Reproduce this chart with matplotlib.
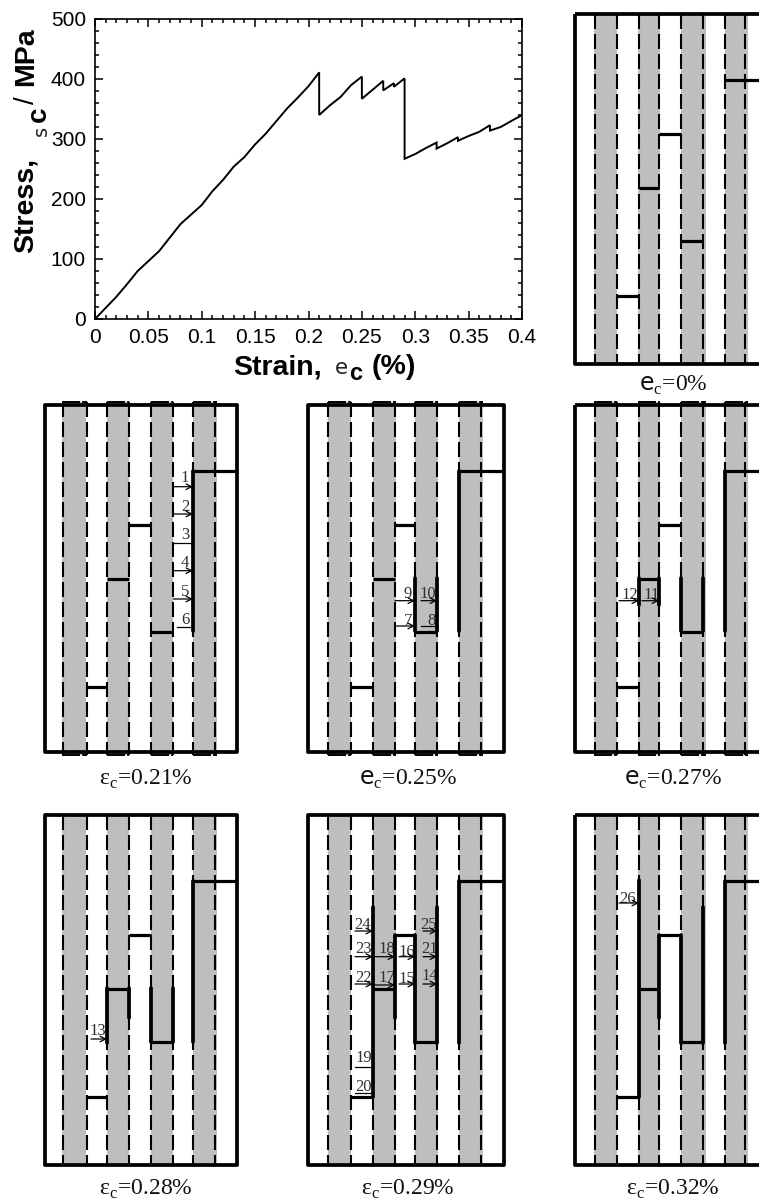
import matplotlib
matplotlib.use('Agg')
import matplotlib.pyplot as plt
from matplotlib.patches import Rectangle

plt.rcParams['mathtext.fontset'] = 'custom'
plt.rcParams['mathtext.rm'] = 'Liberation Serif'
plt.rcParams['mathtext.sf'] = 'DejaVu Sans'
plt.rcParams['mathtext.bf'] = 'Liberation Sans:bold'
plt.rcParams['lines.scale_dashes'] = False

W, H = 759, 1200
DPI = 100

# ---- stress-strain curve ----
strain = [0, 0.02, 0.03, 0.04, 0.06, 0.08, 0.10, 0.11, 0.12, 0.13, 0.14, 0.15, 0.16, 0.17, 0.18, 0.19,
          0.20, 0.21, 0.21, 0.22, 0.23, 0.24, 0.25, 0.25, 0.26, 0.27, 0.27, 0.28, 0.28, 0.29, 0.29,
          0.30, 0.31, 0.32, 0.32, 0.33, 0.34, 0.34, 0.35, 0.36, 0.37, 0.37, 0.38, 0.39, 0.40]
stress = [0, 37, 58, 80, 113, 158, 190, 213, 232, 254, 270, 291, 309, 330, 351, 369,
          388, 411, 340, 356, 370, 390, 404, 367, 382, 397, 381, 393, 387, 401, 267,
          275, 285, 294, 284, 293, 303, 297, 305, 312, 323, 314, 320, 330, 340]
x_ticks = [0, 0.05, 0.1, 0.15, 0.2, 0.25, 0.3, 0.35, 0.4]
x_tick_labels = ['0', '0.05', '0.1', '0.15', '0.2', '0.25', '0.3', '0.35', '0.4']
y_ticks = [0, 100, 200, 300, 400, 500]

# ---- laminate panels ----
iface_col = {
    1: [62.7, 87.0, 107.3, 129.0, 151.3, 173.3, 193.3, 215.0],
    2: [328.3, 350.7, 373.3, 395.0, 415.3, 437.3, 458.7, 481.0],
    3: [595.0, 617.3, 639.0, 659.0, 681.0, 703.3, 725.0, 745.3],
}
band_col = {
    1: [(62.5, 86.5), (106.8, 129.5), (150.7, 173.0), (192.8, 217.3)],
    2: [(328, 351), (373, 395.5), (415, 438), (458.5, 483)],
    3: [(594.5, 617.5), (638.5, 660), (680.5, 705.7), (724.5, 747.7)],
}
box_col = {1: (45, 237), 2: (308, 504), 3: (575, 767)}
row_span = {0: (14, 364), 1: (405, 752), 2: (815, 1165)}

# transverse cracks: depth below the panel top
crack_a, crack_b, crack_c, crack_d, crack_e = 282, 174, 120, 227, 66

panels = [
    dict(name='0', col=3, row=0, cap=r'$\mathsf{e}_{\mathrm{c}}$=0%', thick=[], arrows=[]),
    dict(name='21', col=1, row=1, cap=r'ε$_{\mathrm{c}}$=0.21%',
         thick=[(6, 66, 226)],
         arrows=[('1', 173.5, 193, 81.7, 185, 73, True), ('2', 173.5, 193, 109, 185, 101.7, True),
                 ('3', 173.5, 193, 137.7, 185, 130, False), ('4', 173.5, 193, 165.7, 185, 158, True),
                 ('5', 173.5, 193, 194, 185, 187, True), ('6', 177, 193, 221.7, 185, 215, False)]),
    dict(name='25', col=2, row=1, cap=r'$\mathsf{e}_{\mathrm{c}}$=0.25%',
         thick=[(6, 66, 226), (4, 173, 226), (5, 173, 226)],
         arrows=[('9', 395, 415, 195.7, 408, 189, True), ('10', 421, 437, 195.7, 428, 189, True),
                 ('7', 395, 415, 221, 408, 216, True), ('8', 421, 437, 221, 432, 216, False)]),
    dict(name='27', col=3, row=1, cap=r'$\mathsf{e}_{\mathrm{c}}$=0.27%',
         thick=[(6, 66, 226), (4, 173, 226), (5, 173, 226), (2, 173, 200), (3, 173, 200)],
         arrows=[('12', 619, 639, 195.7, 630, 190, True), ('11', 642, 659, 195.7, 652, 190, True)]),
    dict(name='28', col=1, row=2, cap=r'ε$_{\mathrm{c}}$=0.28%',
         thick=[(6, 66, 227), (4, 173, 227), (5, 173, 227), (2, 173, 228), (3, 173, 203)],
         arrows=[('13', 91, 107, 224, 98, 216, True)]),
    dict(name='29', col=2, row=2, cap=r'ε$_{\mathrm{c}}$=0.29%',
         thick=[(6, 66, 228), (5, 92, 228), (4, 120, 228), (3, 120, 203), (2, 92, 282)],
         arrows=[('24', 355, 373, 116, 363, 110, True), ('23', 355, 373, 141.7, 363, 134, True),
                 ('22', 355, 373, 169, 363, 162.7, True), ('19', 355, 372, 251.7, 364, 243, False),
                 ('20', 355, 372, 278, 364, 271.7, False), ('18', 373, 395, 141.7, 387, 134, True),
                 ('17', 373, 395, 170, 387, 162.7, True), ('16', 399, 415, 141.7, 407, 136.7, True),
                 ('15', 399, 415, 169, 407, 164, True), ('21', 423, 437, 141.7, 430, 134, True),
                 ('25', 423, 437, 116, 429, 110, True), ('14', 423, 437, 169, 430, 160.7, True)]),
    dict(name='32', col=3, row=2, cap=r'ε$_{\mathrm{c}}$=0.32%',
         thick=[(6, 66, 228), (5, 92, 228), (4, 120, 228), (3, 120, 203), (2, 65, 282)],
         arrows=[('26', 619, 639, 88, 628, 84, True)]),
]
cap_x = {1: 146, 2: 408, 3: 673}
cap_y = {0: 385, 1: 779, 2: 1189}

GRAY = '#BEBEBE'
BOX_LW = 2.7
CRACK_LW = 2.3
THICK_LW = 2.7

fig = plt.figure(figsize=(W / DPI, H / DPI), dpi=DPI)


def axes_px(x0, x1, y0, y1):
    return fig.add_axes([x0 / W, 1 - y1 / H, (x1 - x0) / W, (y1 - y0) / H])


# ---- main plot ----
ax = axes_px(95, 522, 19, 319)
ax.plot(strain, stress, color='black', lw=1.4, solid_joinstyle='miter')
ax.set_xlim(0, 0.4)
ax.set_ylim(0, 500)
ax.set_xticks(x_ticks)
ax.set_xticklabels(x_tick_labels, family='Liberation Sans', fontsize=15)
ax.set_yticks(y_ticks)
ax.set_yticklabels([str(v) for v in y_ticks], family='Liberation Sans', fontsize=15)
ax.set_xticks([v / 100 for v in range(0, 41) if v % 5], minor=True)
ax.set_yticks([v for v in range(0, 501, 20) if v % 100], minor=True)
ax.tick_params(which='major', direction='in', top=True, right=True, length=5.5, width=1.1, pad=6.5)
ax.tick_params(which='minor', direction='in', top=True, right=True, length=3, width=1.1)
for s in ax.spines.values():
    s.set_linewidth(1.2)


def ptext(x, y, s, **kw):
    fig.text(x / W, 1 - y / H, s, ha='center', va='center', **kw)


bold = dict(family='Liberation Sans', fontweight='bold', fontsize=20.5)
ptext(277, 367, 'Strain,', **bold)
ptext(341, 368, 'e', family='DejaVu Sans', fontsize=15.5, color='#222222')
ptext(356, 373, 'c', family='Liberation Sans', fontweight='bold', fontsize=17)
ptext(394, 367, '(%)', **bold)
ptext(26, 205, 'Stress,', rotation=90, **bold)
ptext(41, 131, 's', rotation=90, family='DejaVu Sans', fontsize=14, color='#222222')
ptext(39, 114, 'c', rotation=90, family='Liberation Sans', fontweight='bold', fontsize=20)
ptext(27, 100, '/', rotation=90, family='Liberation Sans', fontsize=20)
ptext(26, 57, 'MPa', rotation=90, **bold)

# ---- laminate panels ----
for p in panels:
    bl, br = box_col[p['col']]
    top, bot = row_span[p['row']]
    a = axes_px(bl, br, top, bot)
    a.set_xlim(bl, br)
    a.set_ylim(bot - top, 0)
    a.axis('off')
    ifc = iface_col[p['col']]
    over = 3 if p['row'] == 1 else 0
    depth = bot - top
    for b0, b1 in band_col[p['col']]:
        a.add_patch(Rectangle((b0, -over), b1 - b0, depth + 2 * over, fc=GRAY, ec='none',
                              zorder=1, clip_on=False))
        if over:
            for yy in (-over, depth + over):
                a.plot([b0, b1], [yy, yy], color='black', lw=1.4, zorder=2, clip_on=False,
                       dashes=(13, 1.5))
    for xi in ifc:
        a.plot([xi, xi], [-over, depth + over], color='black', lw=1.5, zorder=3,
               dashes=(10.8, 3.6), clip_on=False)
    # arrows and numbers sit under the thick crack lines
    for lab, xs, xe, yy, lx, ly, head in p['arrows']:
        a.text(lx, ly, lab, family='Liberation Serif', fontsize=12, ha='center', va='center',
               color='#303030', zorder=4, clip_on=False)
        if head:
            a.annotate('', xy=(xe, yy), xytext=(xs, yy), zorder=5,
                       arrowprops=dict(arrowstyle='->,head_length=0.4,head_width=0.2', lw=0.9,
                                       color='black', shrinkA=0, shrinkB=0))
        else:
            a.plot([xs, xe], [yy, yy], color='black', lw=0.9, zorder=5)
    # transverse cracks
    a.plot([ifc[1], ifc[2]], [crack_a, crack_a], color='black', lw=CRACK_LW, zorder=6, solid_capstyle='butt')
    a.plot([ifc[2], ifc[3]], [crack_b, crack_b], color='black', lw=CRACK_LW, zorder=6, solid_capstyle='butt')
    a.plot([ifc[3], ifc[4]], [crack_c, crack_c], color='black', lw=CRACK_LW, zorder=6, solid_capstyle='butt')
    a.plot([ifc[4], ifc[5]], [crack_d, crack_d], color='black', lw=CRACK_LW, zorder=6, solid_capstyle='butt')
    a.plot([ifc[6], br], [crack_e, crack_e], color='black', lw=CRACK_LW, zorder=6, solid_capstyle='butt')
    for idx, d0, d1 in p['thick']:
        a.plot([ifc[idx], ifc[idx]], [d0, d1], color='black', lw=THICK_LW, zorder=7, solid_capstyle='round')
    a.add_patch(Rectangle((bl, 0), br - bl, depth, fc='none', ec='black', lw=BOX_LW, zorder=8,
                          clip_on=False, joinstyle='round'))
    ptext(cap_x[p['col']], cap_y[p['row']], p['cap'], family='Liberation Serif', fontsize=17, color='#111111')

fig.savefig('out.png', dpi=DPI)
